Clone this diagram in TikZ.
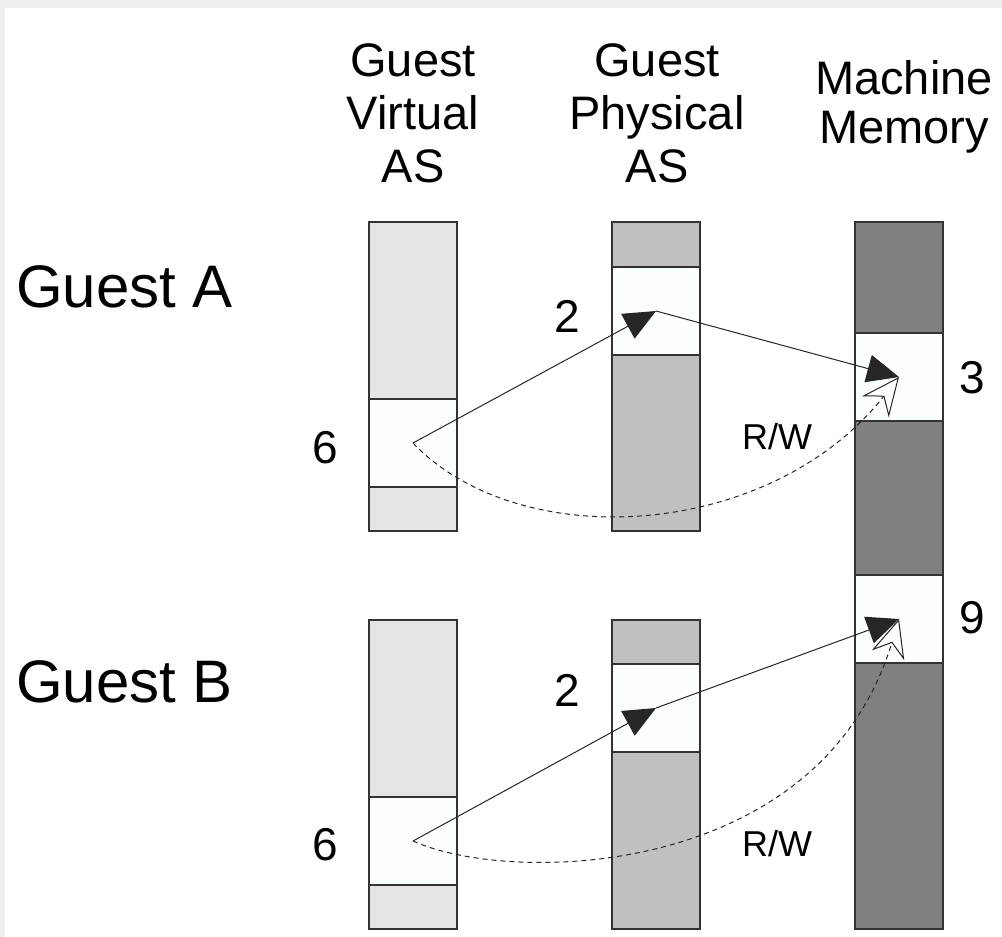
\documentclass[tikz,border=0pt]{standalone}
\usepackage{fontspec}
\setmainfont{Liberation Sans}
\usetikzlibrary{arrows.meta}
\definecolor{virtfill}{RGB}{229,229,229}
\definecolor{physfill}{RGB}{192,192,192}
\definecolor{machfill}{RGB}{128,128,128}
\definecolor{pagefill}{RGB}{250,254,255}
\definecolor{edgegray}{RGB}{238,238,238}
\tikzset{column/.style={draw=black!80,line width=1.2pt},
 page/.style={column,fill=pagefill,minimum width=88pt,minimum height=88pt,inner sep=0pt},
 mapping/.style={-{Triangle[length=32pt,width=28pt]},line width=1pt,black!85},
 shortcut/.style={-{Stealth[open,length=38pt,width=34pt,inset=13pt]},dash pattern=on 5pt off 4pt,line width=1pt,black!85},
 heading/.style={align=center,font=\fontsize{47}{53}\selectfont,inner sep=0pt},
 guest/.style={anchor=base west,font=\fontsize{60}{60}\selectfont,inner sep=0pt},
 frameno/.style={font=\fontsize{46}{46}\selectfont,inner sep=0pt},
 access/.style={font=\fontsize{36}{36}\selectfont,inner sep=0pt}}

\begin{document}
\begin{tikzpicture}[x=1pt,y=-1pt]
\useasboundingbox (0,0) rectangle (1002,937);
\fill[edgegray] (0,0) rectangle (1002,937);
\fill[white] (5,8) rectangle (1002,937);
% address space columns
\filldraw[column,fill=virtfill] (369,222) rectangle (457,531);
\filldraw[column,fill=physfill] (612,222) rectangle (700,531);
\filldraw[column,fill=virtfill] (369,620) rectangle (457,929);
\filldraw[column,fill=physfill] (612,620) rectangle (700,929);
\filldraw[column,fill=machfill] (855,222) rectangle (943,929);
% pages
\node[page] (vA) at (413,443) {};
\node[page] (pA) at (656,311) {};
\node[page] (vB) at (413,841) {};
\node[page] (pB) at (656,708) {};
\node[page] (mA) at (899,377) {};
\node[page] (mB) at (899,619) {};
% translations
\draw[mapping] (vA.center) -- (pA.center);
\draw[mapping] (pA.center) -- (mA.center);
\draw[shortcut] (vA.center) .. controls +(107,112) and +(-129,163) .. (mA.center);
\draw[mapping] (vB.center) -- (pB.center);
\draw[mapping] (pB.center) -- (mB.center);
\draw[shortcut] (vB.center) .. controls +(97,44) and +(-79,261) .. (mB.center);
% labels
\node[heading] (hvirt) at (413,113) {Guest\\Virtual\\AS};
\node[heading] (hphys) at (657,113) {Guest\\Physical\\AS};
\node[heading,font=\fontsize{47}{49}\selectfont] (hmach) at (904,107) {Machine\\Memory};
\node[guest] (gA) at (16,307) {Guest A};
\node[guest] (gB) at (16,702) {Guest B};
\node[frameno] (nvA) at (325,448) {6};
\node[frameno] (npA) at (567,316) {2};
\node[frameno] (nvB) at (325,845) {6};
\node[frameno] (npB) at (567,690) {2};
\node[frameno] (nmA) at (972,378) {3};
\node[frameno] (nmB) at (972,618) {9};
\node[access] (rwA) at (777,437) {R/W};
\node[access] (rwB) at (777,844) {R/W};
\end{tikzpicture}
\end{document}
